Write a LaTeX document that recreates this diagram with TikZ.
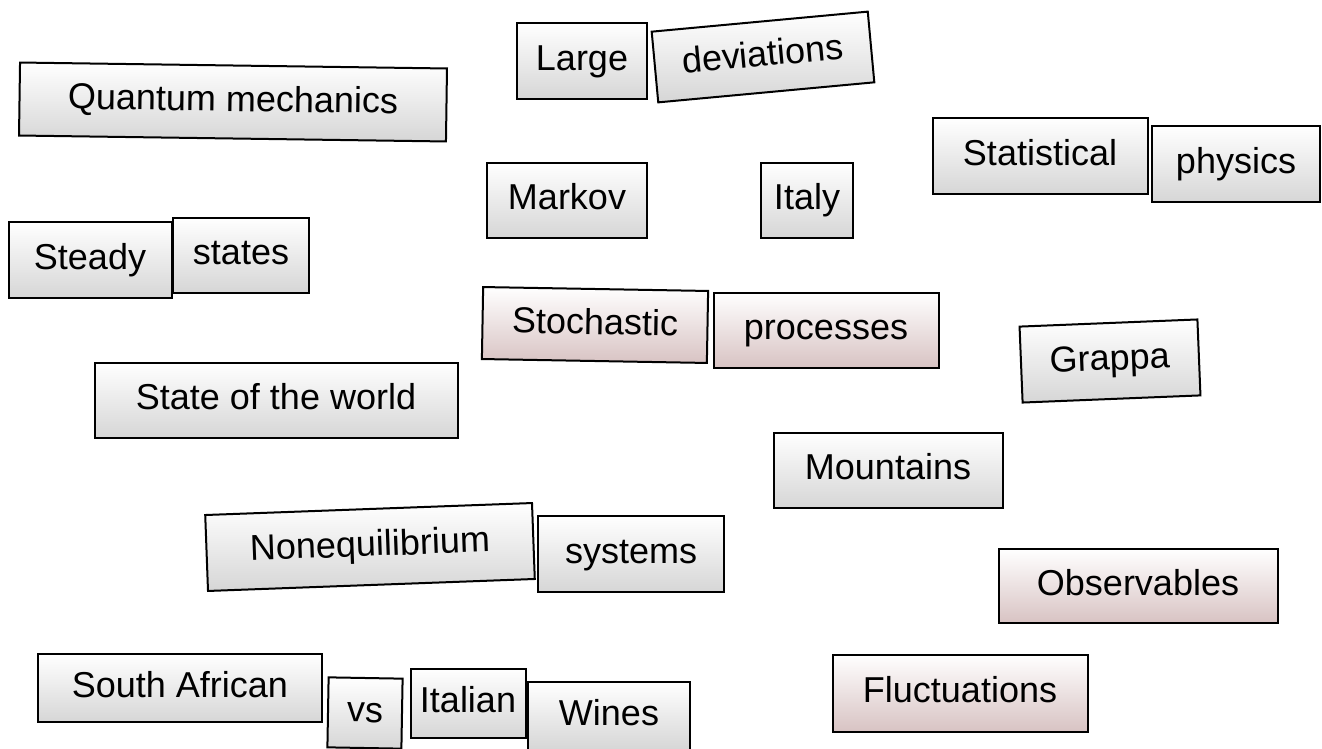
\documentclass[tikz,border=0pt]{standalone}
\usepackage{fontspec}
\setmainfont{Liberation Sans}
\usepackage{xcolor}
\definecolor{tagGray}{HTML}{D6D6D6}
\definecolor{tagRose}{HTML}{D8C3C3}
\begin{document}
\begin{tikzpicture}[x=0.5pt, y=-0.5pt,
    tag/.style={draw, line width=1pt, inner sep=0pt,
        top color=white, bottom color=tagGray,
        text height=13pt, text depth=3.8pt,
        font=\fontsize{18pt}{21pt}\selectfont},
    tagrose/.style={tag, bottom color=tagRose},
    dims/.style 2 args={minimum width=#1*0.5pt, minimum height=#2*0.5pt}]

    % Page frame (pixel coordinates of the reference)
    \useasboundingbox (0,0) rectangle (1322,749);

    % Top row
    \node[tag, dims={427}{73}, rotate=-0.8] (quantum) at (233,102) {Quantum mechanics};
    \node[tag, dims={130}{76}] (large) at (582,61) {Large};
    \node[tag, dims={217}{71}, rotate=5.3] (deviations) at (763,57) {deviations};
    \node[tag, dims={215}{75}] (statistical) at (1040,156) {Statistical};
    \node[tag, dims={168}{76}] (physics) at (1236,164) {physics};

    % Second row
    \node[tag, dims={160}{75}] (markov) at (567,200) {Markov};
    \node[tag, dims={92}{75}] (italy) at (807,200) {Italy};
    \node[tag, dims={163}{76}] (steady) at (90,260) {Steady};
    \node[tag, dims={136}{75}] (states) at (241,255) {states};

    % Middle
    \node[tagrose, dims={225}{72}, rotate=-1] (stochastic) at (595,325) {Stochastic};
    \node[tagrose, dims={225}{75}] (processes) at (826,330) {processes};
    \node[tag, dims={178}{76}, rotate=2.3] (grappa) at (1110,361) {Grappa};
    \node[tag, dims={363}{75}] (world) at (276,400) {State of the world};
    \node[tag, dims={229}{75}] (mountains) at (888,470) {Mountains};

    % Lower middle
    \node[tag, dims={327}{76}, rotate=2.1] (noneq) at (370,547) {Nonequilibrium};
    \node[tag, dims={186}{76}] (systems) at (631,554) {systems};
    \node[tagrose, dims={279}{74}] (observables) at (1138,586) {Observables};

    % Bottom row
    \node[tag, dims={284}{68}] (southafrican) at (180,688) {South African};
    \node[tag, dims={74}{70}, rotate=-1] (vs) at (365,713) {vs};
    \node[tag, dims={115}{69}] (italian) at (468,703) {Italian};
    \node[tag, dims={162}{68}] (wines) at (609,716) {Wines};
    \node[tagrose, dims={255}{77}] (fluctuations) at (960,693) {Fluctuations};

\end{tikzpicture}
\end{document}
